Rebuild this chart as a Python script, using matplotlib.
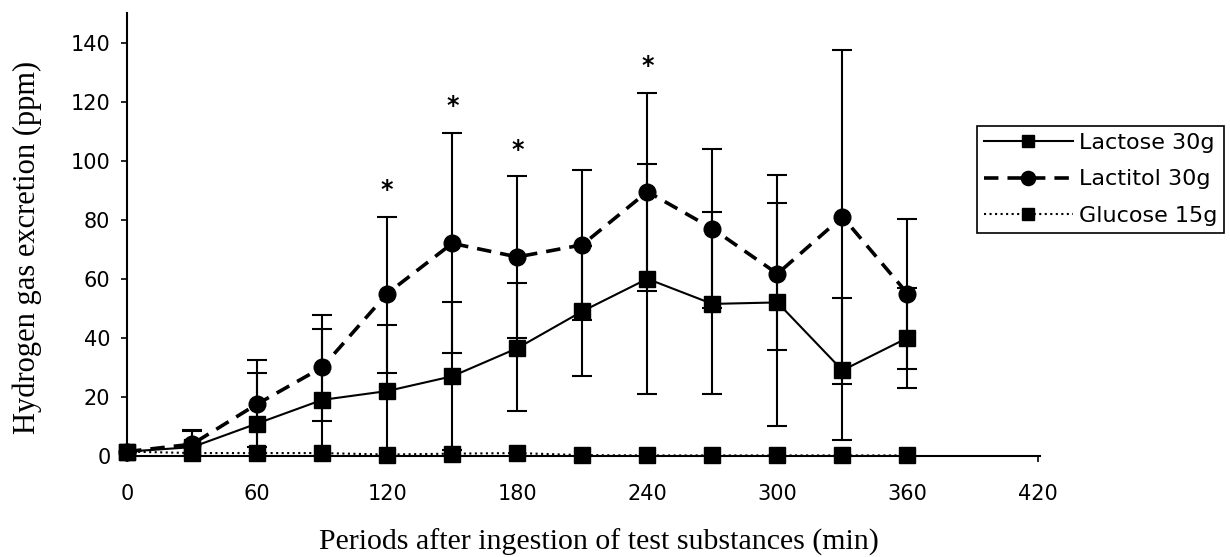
import numpy as np
import matplotlib.pyplot as plt

# data
minutes = [0, 30, 60, 90, 120, 150, 180, 210, 240, 270, 300, 330, 360]

lactose_mean = [1.5, 3, 11, 19, 22, 27, 36.5, 49, 60, 51.5, 52, 29, 40]
lactose_hi = [1.5, 8.5, 28, 43, 44.5, 52, 58.7, 71, 99, 82.5, 85.5, 53.5, 57]
lactose_lo = [1.5, 0, 0, 0, 0, 2, 15.3, 27, 21, 21, 10, 5.4, 23]

lactitol_mean = [1.5, 4, 17.6, 30, 55, 72, 67.4, 71.5, 89.5, 77, 61.7, 81, 55]
lactitol_hi = [1.5, 8.8, 32.5, 47.8, 81, 109.5, 94.7, 97, 123, 104, 95, 137.4, 80.3]
lactitol_lo = [1.5, 0, 3, 12, 28.2, 35, 40, 46, 56, 50, 36, 24.4, 29.5]

glucose_mean = [1.5, 1, 1, 1, 0.5, 0.8, 1, 0.3, 0.2, 0.2, 0.2, 0.2, 0.2]

star_minutes = [120, 150, 180, 240]

xticks = [0, 60, 120, 180, 240, 300, 360, 420]
yticks = [0, 20, 40, 60, 80, 100, 120, 140]

SANS = 'DejaVu Sans'
SERIF = 'Liberation Serif'

fig = plt.figure(figsize=(12.3, 5.57), dpi=100)
ax = fig.add_axes([0.1033, 0.1813, 0.742, 0.7954])

x = np.array(minutes)

def err(mean, lo, hi):
    mean = np.array(mean)
    return [mean - np.array(lo), np.array(hi) - mean]

ax.errorbar(x, lactitol_mean, yerr=err(lactitol_mean, lactitol_lo, lactitol_hi),
            fmt='none', ecolor='black', elinewidth=1.5, capsize=7, capthick=1.5, zorder=2)
ax.errorbar(x, lactose_mean, yerr=err(lactose_mean, lactose_lo, lactose_hi),
            fmt='none', ecolor='black', elinewidth=1.5, capsize=7, capthick=1.5, zorder=2)

ax.plot(x, lactose_mean, '-', color='black', lw=1.5, marker='s', ms=11,
        label='Lactose 30g', zorder=4, clip_on=False)
ax.plot(x, lactitol_mean, color='black', lw=2.6, dashes=(4, 2.5), marker='o', ms=12,
        label='Lactitol 30g', zorder=4, clip_on=False)
ax.plot(x, glucose_mean, ':', color='black', lw=1.5, marker='s', ms=11,
        label='Glucose 15g', zorder=5, clip_on=False)

# significance marks above the upper bars
for m in star_minutes:
    i = minutes.index(m)
    ax.text(m, lactitol_hi[i] + 5, '*', ha='center', va='bottom',
            fontsize=17, fontweight='bold', family=SANS)

ax.set_xlim(0, 421)
ax.set_ylim(0, 150)
ax.set_xticks(xticks)
ax.set_yticks(yticks)
ax.spines['top'].set_visible(False)
ax.spines['right'].set_visible(False)
ax.spines['left'].set_linewidth(1.5)
ax.spines['bottom'].set_linewidth(1.5)
ax.tick_params(direction='out', length=4, width=1.2, labelsize=15, pad=8)
for lab in ax.get_xticklabels() + ax.get_yticklabels():
    lab.set_family(SANS)
ax.tick_params(axis='x', pad=16)

ax.set_xlabel('Periods after ingestion of test substances (min)',
              family=SERIF, fontsize=21.5)
ax.set_ylabel('Hydrogen gas excretion (ppm)', family=SERIF, fontsize=22)
ax.xaxis.set_label_coords(0.517, -0.165)
ax.yaxis.set_label_coords(-0.093, 0.47)

leg = fig.legend(loc='upper left', bbox_to_anchor=(977 / 1230, 1 - 126 / 557),
                 borderaxespad=0, fancybox=False, framealpha=1, edgecolor='black',
                 prop={'family': SANS, 'size': 16}, handlelength=4.0,
                 handletextpad=0.3, labelspacing=0.75, borderpad=0.3, markerscale=0.85)
leg.get_frame().set_linewidth(1.2)

fig.savefig('out.png', dpi=100)
